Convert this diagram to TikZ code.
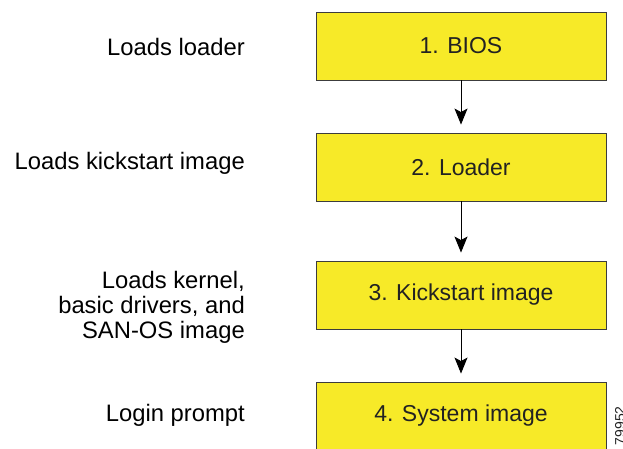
\documentclass[tikz,border=0pt]{standalone}
\usepackage{fontspec}
\setmainfont{Liberation Sans}
\usetikzlibrary{arrows.meta}
\definecolor{boxyellow}{RGB}{247,234,40}
\definecolor{boxline}{RGB}{60,60,60}
\definecolor{boxtext}{RGB}{34,34,34}
\begin{document}
\begin{tikzpicture}[x=1pt,y=-1pt,
  stepbox/.style={draw=boxline, line width=0.9pt, fill=boxyellow, minimum width=290pt, minimum height=68pt, inner sep=0pt, text=boxtext, font=\fontsize{23}{27}\selectfont},
  lbl/.style={anchor=east, align=right, inner sep=0pt, font=\fontsize{23.8}{25}\selectfont},
  flow/.style={line width=0.9pt, -{Stealth[length=16pt,width=13pt,inset=3.5pt]}, shorten >=8pt}
]
\useasboundingbox (0,0) rectangle (623,448);
\node[stepbox] (b1) at (461,46) {1. BIOS};
\node[stepbox] (b2) at (461,167) {2. Loader};
\node[stepbox] (b3) at (461,295) {3. Kickstart image};
\node[stepbox] (b4) at (461,416) {4. System image};
\draw[flow] (b1) -- (b2);
\draw[flow] (b2) -- (b3);
\draw[flow] (b3) -- (b4);
\node[lbl] (l1) at (245,47) {Loads loader};
\node[lbl] (l2) at (245,163) {Loads kickstart image};
\node[lbl] (l3) at (245,307) {Loads kernel,\\basic drivers, and\\SAN-OS image};
\node[lbl] (l4) at (245,415) {Login prompt};
\node[rotate=90, anchor=north east, inner sep=0pt, font=\fontsize{14}{14}\selectfont, text=boxtext] (id) at (615,406) {79952};
\end{tikzpicture}
\end{document}
